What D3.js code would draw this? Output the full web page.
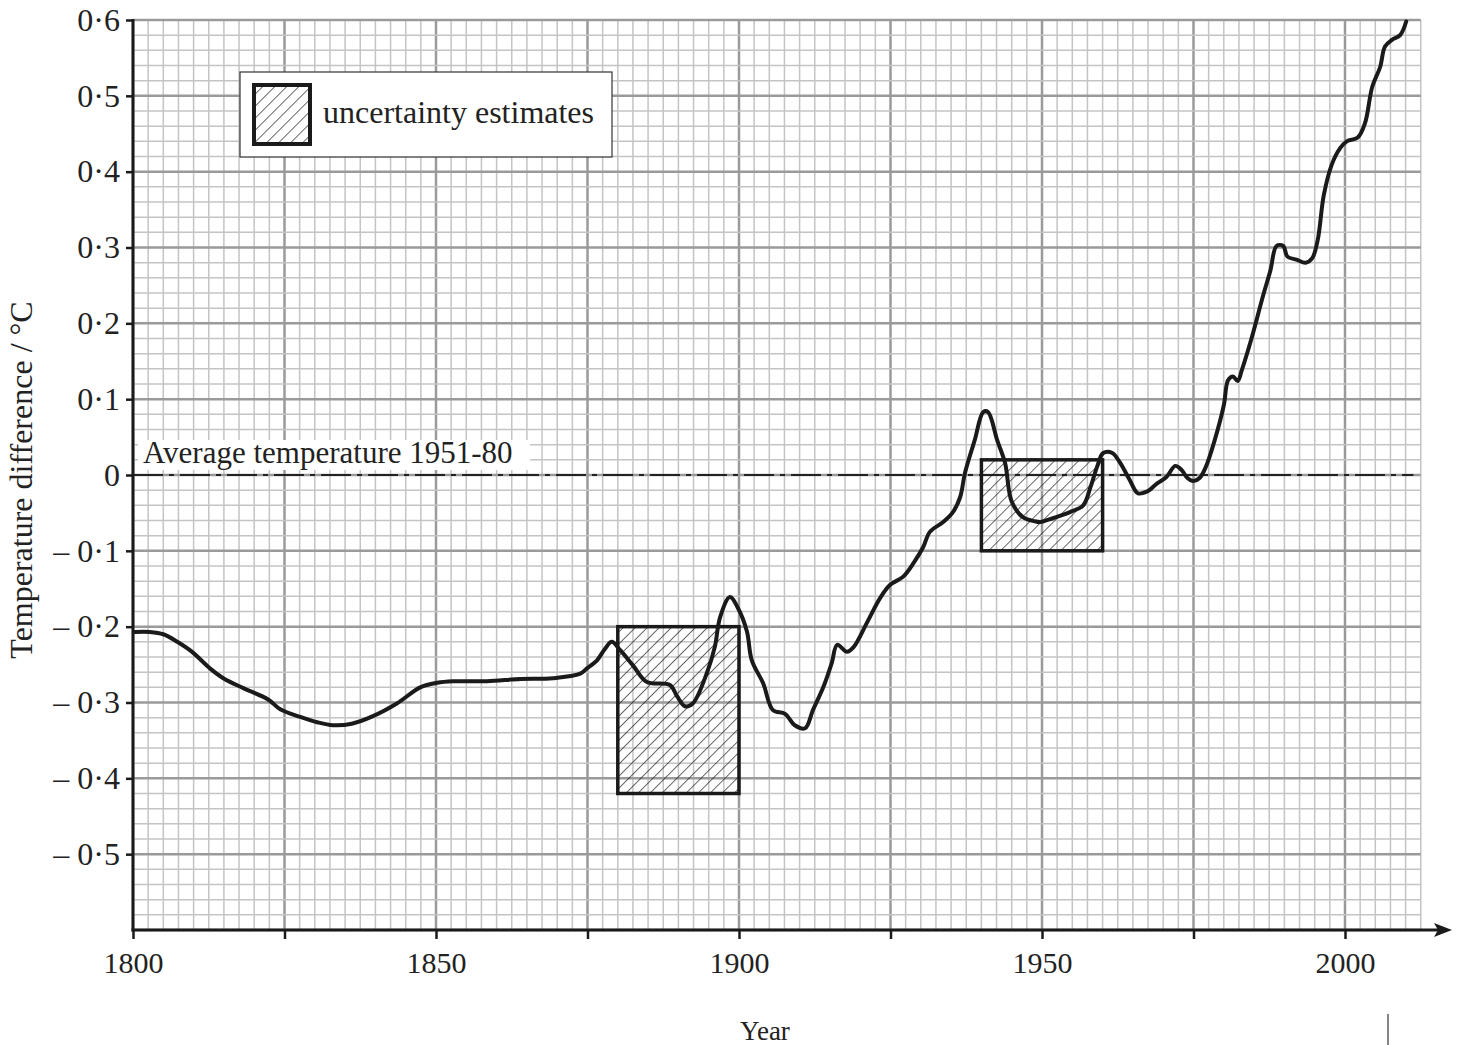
<!DOCTYPE html>
<html>
<head>
<meta charset="utf-8">
<script src="https://cdn.jsdelivr.net/npm/d3@7"></script>
<style>
  body { margin: 0; background: #fff; }
  svg { display: block; font-family: "Liberation Serif", "Times New Roman", serif; }
</style>
</head>
<body>
<svg id="canvas" width="1464" height="1045"></svg>
<script>
// years and temperature difference (°C)
const years = [1800.3, 1802.8, 1805, 1807.3, 1809.7, 1812.7, 1814.9, 1818.2, 1822.3, 1824.3, 1827.6, 1830.4, 1833, 1836.1, 1839.6, 1843.6, 1847.4,
  1850.2, 1852.8, 1858.4, 1863.9, 1869.3, 1873.8, 1874.9, 1876.6, 1877.9, 1879, 1880.4, 1882.5, 1884.8, 1888.6, 1889.8, 1891.1, 1892.4,
  1894.7, 1896, 1896.9, 1898.5, 1899.8, 1901.3, 1902.1, 1904, 1905.6, 1907.6, 1909.2, 1910.9, 1912.2, 1913.9, 1915.3, 1916.2, 1917.8,
  1918.9, 1921.1, 1923.3, 1924.9, 1927.1, 1928.9, 1930.4, 1931.5, 1933.7, 1935.3, 1936.5, 1937.3, 1938.9, 1940.3, 1941.1, 1942.6, 1943.9,
  1945, 1946.9, 1948.8, 1949.7, 1951.8, 1954.6, 1956.8, 1958, 1959.1, 1960.1, 1961.6, 1962.9, 1964.5, 1965.8, 1967.3, 1969, 1970.5,
  1972, 1973, 1974, 1975, 1976, 1977, 1978.5, 1980, 1980.7, 1981.5, 1982.3, 1983, 1984.5, 1986.5, 1987.7, 1988.7, 1989.8, 1990.5,
  1992, 1993.5, 1994.6, 1995.5, 1996.5, 1997.8, 1999.2, 2000.3, 2002.1, 2003.3, 2004.5, 2005.8, 2006.6, 2007.8, 2009.1, 2010.1];
const temps = [-0.207, -0.207, -0.21, -0.22, -0.233, -0.255, -0.268, -0.281, -0.296, -0.309, -0.319, -0.326, -0.33, -0.328, -0.318, -0.301, -0.28,
  -0.274, -0.272, -0.272, -0.269, -0.268, -0.262, -0.255, -0.244, -0.229, -0.22, -0.231, -0.251, -0.273, -0.277, -0.292, -0.305, -0.301,
  -0.261, -0.227, -0.187, -0.161, -0.175, -0.206, -0.244, -0.275, -0.31, -0.315, -0.33, -0.334, -0.31, -0.28, -0.248, -0.224, -0.233,
  -0.227, -0.195, -0.162, -0.145, -0.134, -0.115, -0.095, -0.075, -0.062, -0.049, -0.029, 0.003, 0.046, 0.083, 0.083, 0.046, 0.016,
  -0.035, -0.056, -0.061, -0.062, -0.057, -0.049, -0.04, -0.016, 0.011, 0.029, 0.029, 0.016, -0.007, -0.024, -0.022, -0.011, -0.003,
  0.012, 0.007, -0.004, -0.008, -0.004, 0.01, 0.046, 0.092, 0.125, 0.13, 0.124, 0.139, 0.178, 0.237, 0.27, 0.302, 0.302, 0.288,
  0.284, 0.28, 0.286, 0.31, 0.369, 0.409, 0.431, 0.44, 0.445, 0.464, 0.512, 0.538, 0.565, 0.574, 0.58, 0.598];

// uncertainty boxes: start, end, top, bottom
const boxStart = [1880, 1940];
const boxEnd = [1900, 1960];
const boxTop = [-0.2, 0.02];
const boxBottom = [-0.42, -0.1];

const yTicks = [0.6, 0.5, 0.4, 0.3, 0.2, 0.1, 0, -0.1, -0.2, -0.3, -0.4, -0.5];
const xLabels = [1800, 1850, 1900, 1950, 2000];
const xTicks = [1800, 1825, 1850, 1875, 1900, 1925, 1950, 1975, 2000];

const svg = d3.select("#canvas");
const x = d3.scaleLinear().domain([1800, 2000]).range([133, 1345]);
const y = d3.scaleLinear().domain([-0.6, 0.6]).range([930, 20]);
const xEnd = 2012.5;

// hachurado
const defs = svg.append("defs");
defs.append("pattern")
    .attr("id", "hatch")
    .attr("patternUnits", "userSpaceOnUse")
    .attr("width", 8.5).attr("height", 8.5)
    .attr("patternTransform", "rotate(45)")
    .append("line")
    .attr("x1", 0).attr("y1", 0).attr("x2", 0).attr("y2", 8.5)
    .attr("stroke", "#1a1a1a").attr("stroke-width", 1.3);

// papel milimetrado
const grid = svg.append("g");
d3.range(0, 86).forEach(i => {
    const yr = 1800 + i * 2.5;
    const major = i % 10 === 0;
    grid.append("line")
        .attr("x1", x(yr)).attr("x2", x(yr))
        .attr("y1", y(0.6)).attr("y2", y(-0.6))
        .attr("stroke", major ? "#9a9a9a" : "#c4c4c4")
        .attr("stroke-width", major ? 2.5 : 1.5);
});
d3.range(0, 61).forEach(i => {
    const v = -0.6 + i * 0.02;
    const major = i % 5 === 0;
    grid.append("line")
        .attr("x1", x(1800)).attr("x2", x(xEnd))
        .attr("y1", y(v)).attr("y2", y(v))
        .attr("stroke", major ? "#9a9a9a" : "#c4c4c4")
        .attr("stroke-width", major ? 2.5 : 1.5);
});

// linea de referencia
svg.append("rect")
    .attr("x", 138).attr("y", 440).attr("width", 392).attr("height", 30)
    .attr("fill", "#fff");
svg.append("text")
    .attr("x", 143).attr("y", 463)
    .attr("font-size", 31).attr("fill", "#222")
    .text("Average temperature 1951-80");
svg.append("line")
    .attr("x1", x(1800)).attr("x2", x(2011.3))
    .attr("y1", y(0)).attr("y2", y(0))
    .attr("stroke", "#222").attr("stroke-width", 2)
    .attr("stroke-dasharray", "30,6,5,6");

// cajas de incertidumbre
boxStart.forEach((s, i) => {
    svg.append("rect")
        .attr("x", x(s)).attr("y", y(boxTop[i]))
        .attr("width", x(boxEnd[i]) - x(s))
        .attr("height", y(boxBottom[i]) - y(boxTop[i]))
        .attr("fill", "url(#hatch)")
        .attr("stroke", "#1a1a1a").attr("stroke-width", 3.5);
});

// curva
const line = d3.line()
    .x((d, i) => x(years[i]))
    .y(d => y(d))
    .curve(d3.curveCatmullRom);
svg.append("path")
    .attr("d", line(temps))
    .attr("fill", "none")
    .attr("stroke", "#1a1a1a")
    .attr("stroke-width", 4)
    .attr("stroke-linejoin", "round")
    .attr("stroke-linecap", "round");

// leyenda
svg.append("rect")
    .attr("x", 240).attr("y", 72).attr("width", 372).attr("height", 85)
    .attr("fill", "#fff").attr("stroke", "#333").attr("stroke-width", 1.2);
svg.append("rect")
    .attr("x", 254).attr("y", 85).attr("width", 56).attr("height", 59)
    .attr("fill", "url(#hatch)")
    .attr("stroke", "#1a1a1a").attr("stroke-width", 4);
svg.append("text")
    .attr("x", 323).attr("y", 123)
    .attr("font-size", 32).attr("fill", "#222")
    .text("uncertainty estimates");

// ejes
const fmt = v => v === 0 ? "0" : (v < 0 ? "– " : "") + Math.abs(v).toFixed(1).replace(".", "·");
const yAxis = svg.append("g")
    .attr("transform", `translate(${x(1800)},0)`)
    .call(d3.axisLeft(y).tickValues(yTicks).tickFormat(fmt).tickSize(7).tickPadding(6));
yAxis.select(".domain").remove();
yAxis.selectAll("line").attr("stroke", "#1a1a1a").attr("stroke-width", 2.5);
yAxis.selectAll("text").attr("font-size", 32).attr("fill", "#222")
    .attr("font-family", "Liberation Serif");

const xAxis = svg.append("g")
    .attr("transform", `translate(0,${y(-0.6)})`)
    .call(d3.axisBottom(x).tickValues(xTicks)
        .tickFormat(d => xLabels.includes(d) ? d : "").tickSize(9));
xAxis.select(".domain").remove();
xAxis.selectAll("line").attr("stroke", "#1a1a1a").attr("stroke-width", 2.5);
xAxis.selectAll("text").attr("font-size", 30).attr("fill", "#222")
    .attr("font-family", "Liberation Serif")
    .attr("y", 43).attr("dy", 0);

svg.append("line")
    .attr("x1", x(1800)).attr("x2", x(1800))
    .attr("y1", y(0.6) - 1).attr("y2", y(-0.6) + 1.5)
    .attr("stroke", "#1a1a1a").attr("stroke-width", 3);
svg.append("line")
    .attr("x1", x(1800) - 1.5).attr("x2", 1440)
    .attr("y1", y(-0.6)).attr("y2", y(-0.6))
    .attr("stroke", "#1a1a1a").attr("stroke-width", 3);
svg.append("path")
    .attr("d", `M1452,${y(-0.6)} L1434,${y(-0.6) - 7} L1438,${y(-0.6)} L1434,${y(-0.6) + 7} Z`)
    .attr("fill", "#1a1a1a");

// titulos
svg.append("text")
    .attr("x", 765).attr("y", 1040)
    .attr("text-anchor", "middle")
    .attr("font-size", 27).attr("fill", "#222")
    .text("Year");
svg.append("text")
    .attr("transform", "translate(32,480) rotate(-90)")
    .attr("text-anchor", "middle")
    .attr("font-size", 32).attr("fill", "#222")
    .text("Temperature difference / °C");

svg.append("line")
    .attr("x1", 1388).attr("x2", 1388)
    .attr("y1", 1014).attr("y2", 1045)
    .attr("stroke", "#333").attr("stroke-width", 1.2);
</script>
</body>
</html>
